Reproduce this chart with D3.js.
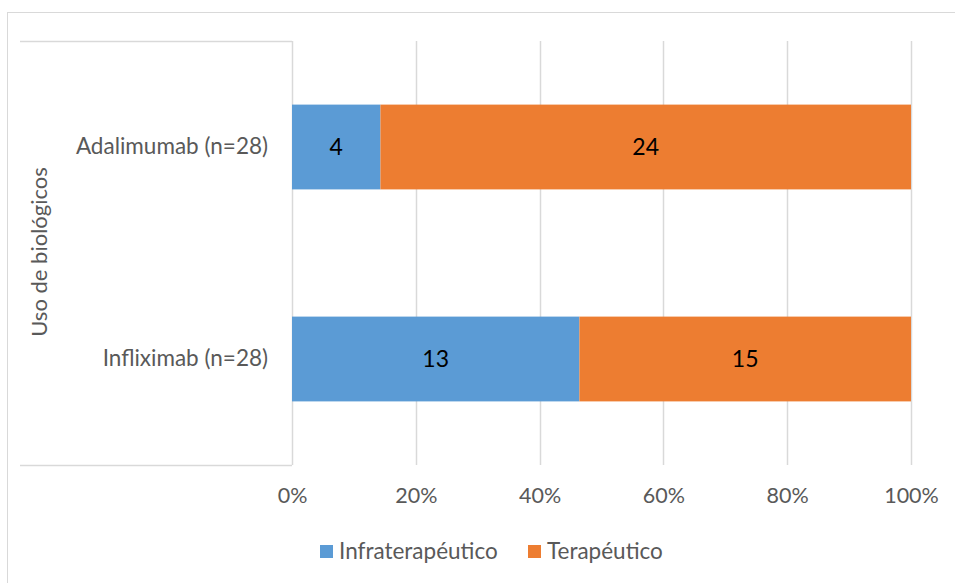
<!DOCTYPE html>
<html><head><meta charset="utf-8">
<script src="https://cdn.jsdelivr.net/npm/d3@7"></script>
<style>body{margin:0;background:#fff;} text{font-family:Lato,"Open Sans",sans-serif;}</style>
</head><body><svg id="c" width="955" height="583"></svg>
<script>
const categories = ["Adalimumab (n=28)", "Infliximab (n=28)"];
const seriesNames = ["Infraterapéutico", "Terapéutico"];
const infra = [4, 13];
const terap = [24, 15];
const xTicks = [0, 0.2, 0.4, 0.6, 0.8, 1.0];
const yTitle = "Uso de biológicos";
const colors = ["#5b9bd5", "#ed7d31"];

(function(){
const svg = d3.select("#c");
const W = 955, H = 583;
svg.append("rect").attr("x",7.5).attr("y",12.5).attr("width",W).attr("height",H).attr("fill","#fff").attr("stroke","#d9d9d9");

const pL = 292, pR = 911, pT = 41, pB = 465;
const x = d3.scaleLinear().domain([0,1]).range([pL,pR]);
const y = d3.scaleBand().domain(categories).range([pT,pB]).paddingInner(0.6).paddingOuter(0.3);

svg.append("g").selectAll("line").data(xTicks).join("line")
  .attr("x1",d=>Math.round(x(d))+0.5).attr("x2",d=>Math.round(x(d))+0.5)
  .attr("y1",pT).attr("y2",pB).attr("stroke","#d9d9d9").attr("stroke-width",1.5);
svg.append("line").attr("x1",20).attr("x2",pL).attr("y1",pT+0.5).attr("y2",pT+0.5).attr("stroke","#d9d9d9").attr("stroke-width",1.5);
svg.append("line").attr("x1",20).attr("x2",pL).attr("y1",pB+0.5).attr("y2",pB+0.5).attr("stroke","#d9d9d9").attr("stroke-width",1.5);

const data = categories.map((c,i)=>{const t=infra[i]+terap[i];return {c, vals:[infra[i],terap[i]], tot:t};});
const stack = d3.stack().keys([0,1]).value((d,k)=>d.vals[k]/d.tot)(data);

const g = svg.append("g");
stack.forEach((layer,k)=>{
  g.selectAll(null).data(layer).join("rect")
    .attr("x",d=>x(d[0])).attr("width",d=>x(d[1])-x(d[0]))
    .attr("y",d=>y(d.data.c)).attr("height",y.bandwidth())
    .attr("fill",colors[k]);
  g.selectAll(null).data(layer).join("text")
    .attr("x",d=>(x(d[0])+x(d[1]))/2).attr("y",d=>y(d.data.c)+y.bandwidth()/2)
    .attr("dy","0.35em").attr("text-anchor","middle").attr("font-size",23).attr("fill","#000")
    .text((d)=>d.data.vals[k]);
});

const xa = d3.axisBottom(x).tickValues(xTicks).tickFormat(d3.format(".0%")).tickSize(0);
const xg = svg.append("g").attr("transform",`translate(0,${pB+20})`).call(xa);
xg.select(".domain").remove();
xg.selectAll("text").attr("font-size",21.5).attr("fill","#595959").attr("font-family","Lato");

const ya = d3.axisLeft(y).tickSize(0);
const yg = svg.append("g").attr("transform",`translate(${pL-21},0)`).call(ya);
yg.select(".domain").remove();
yg.selectAll("text").attr("font-size",22.5).attr("fill","#595959").attr("font-family","Lato");

svg.append("text").attr("transform",`translate(47,252) rotate(-90)`).attr("text-anchor","middle")
  .attr("font-size",22).attr("fill","#595959").text(yTitle);

const lx = [320, 528];
seriesNames.forEach((s,i)=>{
  svg.append("rect").attr("x",lx[i]).attr("y",545).attr("width",13).attr("height",13).attr("fill",colors[i]);
  svg.append("text").attr("x",lx[i]+19).attr("y",551).attr("dy","0.35em").attr("font-size",22.5).attr("fill","#595959").text(s);
});
})();
</script></body></html>
